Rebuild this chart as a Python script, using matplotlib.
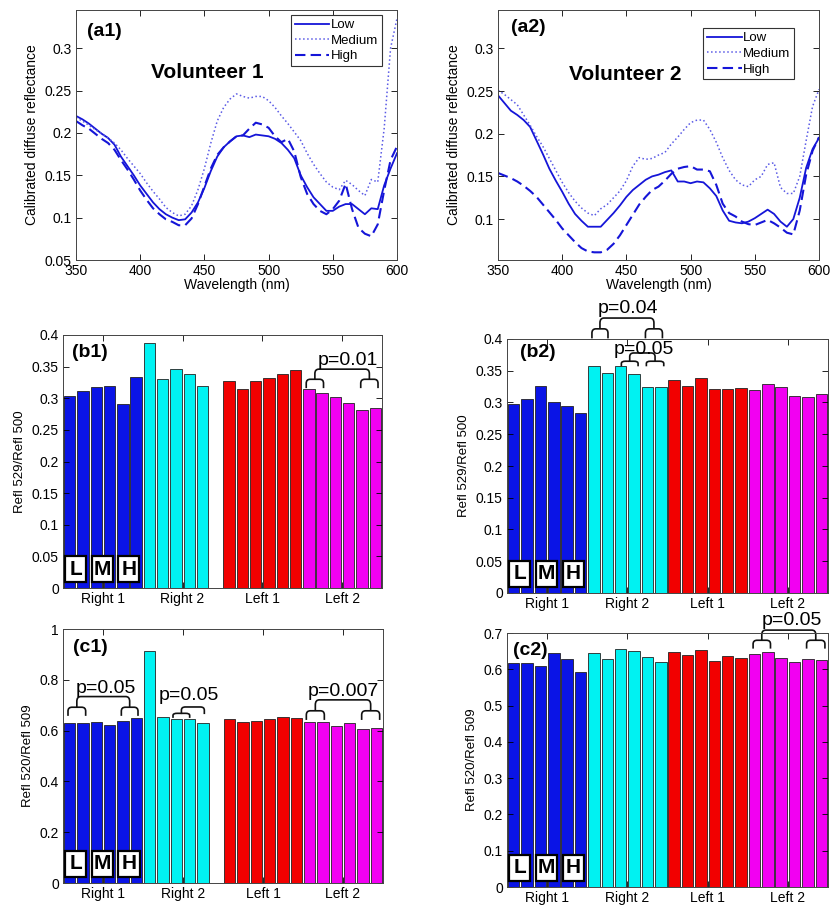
"""
Diffuse reflectance spectra (a1, a2) and reflectance ratios per site (b, c).
"""

import numpy as np
import matplotlib
matplotlib.use("Agg")
import matplotlib.pyplot as plt
from matplotlib.path import Path
from matplotlib.patches import PathPatch, Rectangle
from matplotlib.ticker import FuncFormatter
import matplotlib.transforms as mtransforms

plt.rcParams['font.family'] = ['Liberation Sans', 'DejaVu Sans']

# ---------------- spectra ----------------
wavelength = np.arange(350, 601, 5)

v1_low = [0.220, 0.216, 0.211, 0.205, 0.199, 0.194, 0.186, 0.172, 0.161, 0.150,
          0.138, 0.128, 0.118, 0.110, 0.104, 0.100, 0.097, 0.098, 0.106, 0.118,
          0.135, 0.155, 0.172, 0.183, 0.190, 0.196, 0.197, 0.195, 0.198, 0.197,
          0.196, 0.193, 0.188, 0.180, 0.170, 0.150, 0.136, 0.124, 0.116, 0.108,
          0.108, 0.113, 0.116, 0.116, 0.110, 0.104, 0.111, 0.110, 0.138, 0.158,
          0.176]
v1_medium = [0.218, 0.214, 0.209, 0.204, 0.199, 0.194, 0.188, 0.180, 0.170, 0.161,
             0.152, 0.141, 0.131, 0.122, 0.112, 0.106, 0.102, 0.104, 0.114, 0.133,
             0.158, 0.188, 0.214, 0.230, 0.240, 0.246, 0.243, 0.241, 0.243, 0.243,
             0.238, 0.230, 0.220, 0.211, 0.201, 0.191, 0.176, 0.163, 0.152, 0.142,
             0.136, 0.133, 0.144, 0.139, 0.132, 0.126, 0.145, 0.142, 0.205, 0.300,
             0.335]
v1_high = [0.214, 0.209, 0.205, 0.199, 0.193, 0.188, 0.180, 0.168, 0.157, 0.145,
           0.132, 0.121, 0.111, 0.104, 0.098, 0.095, 0.091, 0.091, 0.099, 0.116,
           0.137, 0.158, 0.174, 0.183, 0.190, 0.196, 0.197, 0.205, 0.212, 0.210,
           0.206, 0.196, 0.189, 0.193, 0.178, 0.148, 0.128, 0.116, 0.108, 0.104,
           0.110, 0.120, 0.140, 0.110, 0.088, 0.081, 0.078, 0.092, 0.132, 0.168,
           0.184]

v2_low = [0.245, 0.236, 0.227, 0.222, 0.216, 0.208, 0.192, 0.176, 0.159, 0.145,
          0.132, 0.118, 0.106, 0.098, 0.091, 0.091, 0.091, 0.099, 0.107, 0.116,
          0.126, 0.134, 0.140, 0.146, 0.150, 0.152, 0.155, 0.157, 0.144, 0.144,
          0.142, 0.144, 0.143, 0.136, 0.127, 0.110, 0.098, 0.096, 0.095, 0.097,
          0.101, 0.106, 0.111, 0.106, 0.097, 0.091, 0.100, 0.125, 0.160, 0.182,
          0.195]
v2_medium = [0.251, 0.246, 0.240, 0.234, 0.222, 0.210, 0.197, 0.185, 0.171, 0.157,
             0.143, 0.131, 0.121, 0.113, 0.107, 0.104, 0.112, 0.117, 0.125, 0.133,
             0.145, 0.162, 0.172, 0.170, 0.171, 0.175, 0.178, 0.188, 0.196, 0.205,
             0.213, 0.216, 0.216, 0.205, 0.190, 0.172, 0.157, 0.146, 0.140, 0.138,
             0.146, 0.150, 0.164, 0.166, 0.137, 0.130, 0.130, 0.150, 0.192, 0.232,
             0.252]
v2_high = [0.154, 0.151, 0.148, 0.144, 0.139, 0.133, 0.126, 0.117, 0.108, 0.099,
           0.089, 0.081, 0.073, 0.066, 0.062, 0.061, 0.061, 0.064, 0.071, 0.081,
           0.093, 0.105, 0.117, 0.126, 0.134, 0.138, 0.145, 0.153, 0.159, 0.161,
           0.162, 0.158, 0.158, 0.156, 0.140, 0.118, 0.107, 0.103, 0.097, 0.094,
           0.093, 0.096, 0.099, 0.095, 0.090, 0.084, 0.082, 0.110, 0.152, 0.180,
           0.196]

# ---------------- ratios (6 measurements per site, nan = missing) ----------------
sites = ["Right 1", "Right 2", "Left 1", "Left 2"]
site_colors = ["#0a14e6", "#00f2f2", "#f20000", "#f200f2"]

b1_right1 = [0.304, 0.311, 0.318, 0.320, 0.291, 0.334]
b1_right2 = [0.388, 0.331, 0.346, 0.339, 0.319, np.nan]
b1_left1 = [0.328, 0.315, 0.328, 0.332, 0.339, 0.344]
b1_left2 = [0.314, 0.308, 0.302, 0.293, 0.281, 0.285]

b2_right1 = [0.297, 0.305, 0.326, 0.300, 0.295, 0.283]
b2_right2 = [0.358, 0.346, 0.357, 0.345, 0.325, 0.325]
b2_left1 = [0.336, 0.326, 0.338, 0.322, 0.322, 0.323]
b2_left2 = [0.320, 0.329, 0.324, 0.311, 0.308, 0.313]

c1_right1 = [0.629, 0.629, 0.632, 0.624, 0.638, 0.649]
c1_right2 = [0.912, 0.655, 0.645, 0.645, 0.630, np.nan]
c1_left1 = [0.646, 0.632, 0.639, 0.645, 0.653, 0.650]
c1_left2 = [0.632, 0.632, 0.618, 0.630, 0.605, 0.611]

c2_right1 = [0.616, 0.616, 0.608, 0.644, 0.628, 0.593]
c2_right2 = [0.645, 0.628, 0.656, 0.651, 0.634, 0.621]
c2_left1 = [0.649, 0.639, 0.654, 0.623, 0.637, 0.632]
c2_left2 = [0.642, 0.649, 0.631, 0.621, 0.628, 0.625]

W, H = 831, 905
LINE_COLOR = "#1515d8"


def px_axes(fig, left, top, right, bottom):
    return fig.add_axes([left / W, 1 - bottom / H, (right - left) / W, (bottom - top) / H])


def matlab_style(ax):
    ax.tick_params(direction="in", top=True, right=True, length=4, width=0.6,
                   labelsize=10, pad=3)
    for sp in ax.spines.values():
        sp.set_linewidth(0.7)
        sp.set_color("#444444")
    ax.yaxis.set_major_formatter(FuncFormatter(lambda v, p: f"{v:g}"))


def spectra_panel(ax, low, med, high, tag, title, legend_anchor, ylim, yticks):
    ax.plot(wavelength, low, "-", color=LINE_COLOR, lw=1.3, label="Low")
    ax.plot(wavelength, med, ":", color="#5a5ae6", lw=1.1, label="Medium")
    ax.plot(wavelength, high, "--", color=LINE_COLOR, lw=1.5, dashes=(5, 2.5), label="High")
    ax.set_xlim(350, 600)
    ax.set_ylim(*ylim)
    ax.set_xticks(np.arange(350, 601, 50))
    ax.set_yticks(yticks)
    matlab_style(ax)
    ax.set_xlabel("Wavelength (nm)", fontsize=10, labelpad=0)
    ax.set_ylabel("Calibrated diffuse reflectance", fontsize=10, labelpad=4)
    ax.text(tag[1], tag[2], tag[0], transform=ax.transAxes, fontsize=14,
            fontweight="bold", ha="center", va="center")
    ax.text(title[1], title[2], title[0], transform=ax.transAxes, fontsize=15,
            fontweight="bold", ha="center", va="center")
    leg = ax.legend(loc="upper right", bbox_to_anchor=legend_anchor, fontsize=9.5,
                    handlelength=2.6, handletextpad=0.1, labelspacing=0.25,
                    borderpad=0.3, borderaxespad=0, fancybox=False, framealpha=1)
    leg.get_frame().set_edgecolor("#333333")
    leg.get_frame().set_linewidth(0.8)


def bracket(ax, x0, x1, ylo, yhi):
    rx = min(0.3, 0.25 * (x1 - x0))
    ry = 0.45 * (yhi - ylo)
    verts = [(x0, ylo), (x0, yhi - ry), (x0, yhi), (x0 + rx, yhi),
             (x1 - rx, yhi), (x1, yhi), (x1, yhi - ry), (x1, ylo)]
    codes = [Path.MOVETO, Path.LINETO, Path.CURVE3, Path.CURVE3,
             Path.LINETO, Path.CURVE3, Path.CURVE3, Path.LINETO]
    ax.add_patch(PathPatch(Path(verts, codes), fill=False, lw=1.2,
                           edgecolor="#111111", clip_on=False))


def pvalue(ax, left, right, ylo, ysmall, ybig, text, tx, ty):
    bracket(ax, left[0], left[1], ylo, ysmall)
    bracket(ax, right[0], right[1], ylo, ysmall)
    bracket(ax, sum(left) / 2, sum(right) / 2, ysmall, ybig)
    ax.text(tx, ty, text, fontsize=14, ha="center", va="baseline", clip_on=False)


def lmh_boxes(ax, yfrac):
    trans = mtransforms.blended_transform_factory(ax.transData, ax.transAxes)
    for xc, letter in zip([0.45, 2.45, 4.45], ["L", "M", "H"]):
        ax.add_patch(Rectangle((xc - 0.8, yfrac - 0.05), 1.6, 0.1,
                               transform=trans, facecolor="white",
                               edgecolor="black", lw=1.6, zorder=5))
        ax.text(xc, yfrac, letter, transform=trans, ha="center", va="center",
                fontsize=15, fontweight="bold", zorder=6)


def bar_panel(ax, groups, tag, ylim, yticks, ylabel):
    values = np.concatenate([np.asarray(g, dtype=float) for g in groups])
    colors = np.repeat(site_colors, 6)
    x = np.arange(len(values))
    ok = ~np.isnan(values)
    ax.bar(x[ok], values[ok], width=0.86, color=colors[ok], edgecolor="#222222", lw=0.6)
    ax.set_xlim(-0.5, len(values) - 0.5)
    ax.set_ylim(*ylim)
    ax.set_yticks(yticks)
    ax.set_xticks([2.5, 8.5, 14.5, 20.5])
    ax.set_xticklabels(sites)
    matlab_style(ax)
    ax.set_ylabel(ylabel, fontsize=9.5, labelpad=4)
    ax.text(tag[1], tag[2], tag[0], transform=ax.transAxes, fontsize=14,
            fontweight="bold", ha="center", va="center")
    lmh_boxes(ax, 0.075)


fig = plt.figure(figsize=(W / 100, H / 100), dpi=100)

ax_a1 = px_axes(fig, 76, 10, 397, 260)
spectra_panel(ax_a1, v1_low, v1_medium, v1_high, ("(a1)", 0.087, 0.912),
              ("Volunteer 1", 0.408, 0.752), (0.953, 0.98), (0.05, 0.345),
              [0.05, 0.1, 0.15, 0.2, 0.25, 0.3])

ax_a2 = px_axes(fig, 498, 10, 819, 260)
spectra_panel(ax_a2, v2_low, v2_medium, v2_high, ("(a2)", 0.094, 0.93),
              ("Volunteer 2", 0.396, 0.744), (0.923, 0.927), (0.052, 0.345),
              [0.1, 0.15, 0.2, 0.25, 0.3])

ax_b1 = px_axes(fig, 63, 335, 382, 588)
bar_panel(ax_b1, [b1_right1, b1_right2, b1_left1, b1_left2], ("(b1)", 0.085, 0.929),
          (0, 0.4), np.arange(0, 0.401, 0.05), "Refl 529/Refl 500")
pvalue(ax_b1, (17.8, 19.1), (21.9, 23.2), 0.316, 0.330, 0.346, "p=0.01", 20.9, 0.352)

ax_b2 = px_axes(fig, 507, 339, 828, 593)
bar_panel(ax_b2, [b2_right1, b2_right2, b2_left1, b2_left2], ("(b2)", 0.097, 0.945),
          (0, 0.4), np.arange(0, 0.401, 0.05), "Refl 529/Refl 500")
pvalue(ax_b2, (5.85, 7.05), (9.85, 11.12), 0.401, 0.416, 0.433, "p=0.04", 8.55, 0.441)
pvalue(ax_b2, (8.05, 9.3), (9.92, 11.22), 0.357, 0.365, 0.378, "p=0.05", 9.72, 0.376)

ax_c1 = px_axes(fig, 63, 629, 383, 883)
bar_panel(ax_c1, [c1_right1, c1_right2, c1_left1, c1_left2], ("(c1)", 0.084, 0.929),
          (0, 1), np.arange(0, 1.01, 0.2), "Refl 520/Refl 509")
pvalue(ax_c1, (-0.125, 1.2), (3.875, 5.125), 0.658, 0.692, 0.734, "p=0.05", 2.7, 0.75)
bracket(ax_c1, 7.75, 9.0, 0.65, 0.668)
bracket(ax_c1, 8.38, 10.1, 0.665, 0.693)
ax_c1.text(8.95, 0.72, "p=0.05", fontsize=14, ha="center", va="baseline")
pvalue(ax_c1, (17.75, 19.1), (21.9, 23.25), 0.642, 0.678, 0.721, "p=0.007", 20.5, 0.737)

ax_c2 = px_axes(fig, 507, 633, 828, 887)
bar_panel(ax_c2, [c2_right1, c2_right2, c2_left1, c2_left2], ("(c2)", 0.072, 0.933),
          (0, 0.7), np.arange(0, 0.701, 0.1), "Refl 520/Refl 509")
pvalue(ax_c2, (17.9, 19.2), (21.9, 23.27), 0.657, 0.680, 0.708, "p=0.05", 20.77, 0.722)

fig.savefig("out.png", dpi=100)
